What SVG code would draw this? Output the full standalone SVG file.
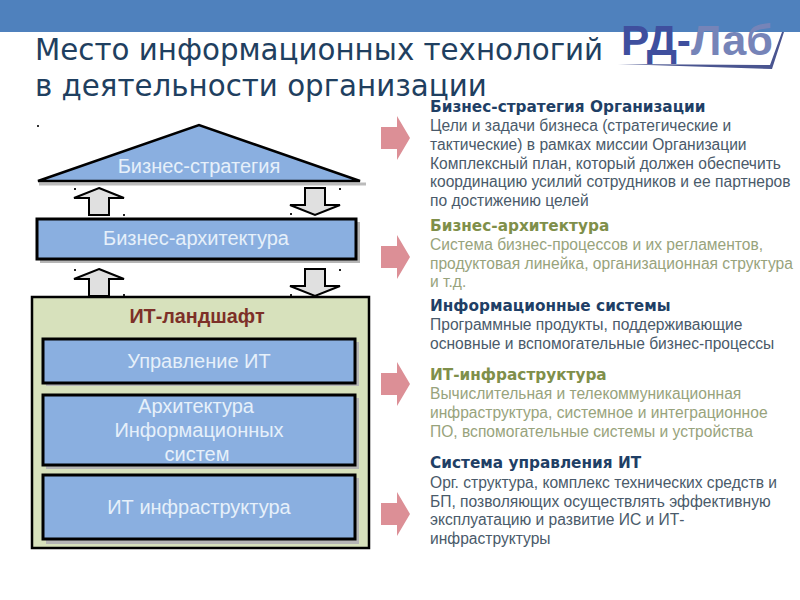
<svg xmlns="http://www.w3.org/2000/svg" width="800" height="600" viewBox="0 0 800 600">
<defs>
<path id="up" d="M0 -14L25 -4H10V13H-10V-4H-25Z"/>
<path id="down" d="M-10 -13H10V4H25L0 14L-25 4H-10Z"/>
</defs>
<style>
text{font-family:"Liberation Sans",Arial,sans-serif}
.title{font-family:"DejaVu Sans",sans-serif;font-size:29.3px;fill:#1f3f60}
.h{font-family:"DejaVu Sans",sans-serif;font-size:15.3px;font-weight:bold}
.n{fill:#1f3f66}.g{fill:#7f8f4a}
.b{font-size:15.6px;fill:#4a5a6a}
.bg{font-size:15.6px;fill:#98a37c}
.w{font-size:20px;fill:#e6f0fa;text-anchor:middle}
.box{fill:#8aafe0;stroke:#000;stroke-width:3}
.sh{fill:#b5b5b5}
.ar{fill:#e0e0e0;stroke:#000;stroke-width:2}
</style>
<rect width="800" height="32" fill="#4f81bd"/>
<g id="logo">
<text x="621" y="55" font-size="42" font-weight="bold" fill="#3f4f9e" textLength="70" lengthAdjust="spacingAndGlyphs">РД-</text>
<text x="691" y="55" font-size="42" font-weight="bold" fill="#7684b8" textLength="82" lengthAdjust="spacingAndGlyphs">Лаб</text>
<path d="M618 64L770 65L782 32L784 32L772 69Z" fill="#4a5590"/>
</g>
<g id="title">
<text class="title" x="35" y="60">Место информационных технологий</text>
<text class="title" x="35" y="96">в деятельности организации</text>
<rect x="37" y="125" width="2" height="2" fill="#333"/>
</g>
<g id="connectors">
<use href="#up" x="99" y="202" class="ar"/>
<use href="#down" x="315" y="201" class="ar"/>
<use href="#up" x="99" y="283" class="ar"/>
<use href="#down" x="315" y="282" class="ar"/>
<g id="handles" fill="#222">
<rect x="74" y="188" width="2" height="2"/><rect x="123" y="214" width="2" height="2"/>
<rect x="339" y="188" width="2" height="2"/><rect x="290" y="213" width="2" height="2"/>
<rect x="74" y="269" width="2" height="2"/><rect x="123" y="294" width="2" height="2"/>
<rect x="339" y="269" width="2" height="2"/><rect x="290" y="294" width="2" height="2"/>
</g>
<g id="pink-arrows" fill="#dc8f96">
<path d="M381 127H397V116L410 138L397 160V149H381Z"/>
<path d="M381 246H397V235L410 257L397 279V268H381Z"/>
<path d="M381 373H397V362L410 384L397 406V395H381Z"/>
<path d="M381 503H397V492L410 514L397 536V525H381Z"/>
</g>
</g>
<g id="strategy">
<path d="M39 184H366" stroke="#bbb" stroke-width="3"/>
<path d="M38 181L199 125L360 181Z" fill="#8aafe0" stroke="#000" stroke-width="2.5"/>
<text class="w" x="199" y="173">Бизнес-стратегия</text>
</g>
<g id="business-arch">
<rect class="sh" x="40" y="222" width="320" height="41"/>
<rect class="box" x="37" y="219" width="319" height="40"/>
<text class="w" x="196" y="245">Бизнес-архитектура</text>
</g>
<g id="landscape">
<rect x="32" y="297" width="337" height="251" fill="#d7e1bc" stroke="#000" stroke-width="2.5"/>
<text x="197" y="323" text-anchor="middle" font-size="19.8" font-weight="bold" fill="#7d3028">ИТ-ландшафт</text>
</g>
<g id="it-mgmt">
<rect class="sh" x="46" y="342" width="313" height="44"/>
<rect class="box" x="43" y="339" width="312" height="44"/>
<text class="w" x="199" y="368">Управление ИТ</text>
</g>
<g id="is-arch">
<rect class="sh" x="46" y="398" width="313" height="71"/>
<rect class="box" x="43" y="395" width="312" height="70"/>
<text class="w" x="196" y="413">Архитектура</text>
<text class="w" x="199" y="437">Информационных</text>
<text class="w" x="197" y="461">систем</text>
</g>
<g id="it-infra">
<rect class="sh" x="46" y="478" width="313" height="66"/>
<rect class="box" x="43" y="475" width="312" height="64"/>
<text class="w" x="199" y="514">ИТ инфраструктура</text>
</g>
<g id="text-right">
<text class="h n" x="430" y="112">Бизнес-стратегия Организации</text>
<text class="b" x="430" y="131">Цели и задачи бизнеса (стратегические и</text>
<text class="b" x="430" y="150">тактические) в рамках миссии Организации</text>
<text class="b" x="430" y="169">Комплексный план, который должен обеспечить</text>
<text class="b" x="430" y="187">координацию усилий сотрудников и ее партнеров</text>
<text class="b" x="430" y="206">по достижению целей</text>
<text class="h g" x="430" y="231">Бизнес-архитектура</text>
<text class="bg" x="430" y="250">Система бизнес-процессов и их регламентов,</text>
<text class="bg" x="430" y="269">продуктовая линейка, организационная структура</text>
<text class="bg" x="430" y="287">и т.д.</text>
<text class="h n" x="430" y="311">Информационные системы</text>
<text class="b" x="430" y="330">Программные продукты, поддерживающие</text>
<text class="b" x="430" y="349">основные и вспомогательные бизнес-процессы</text>
<text class="h g" x="430" y="380">ИТ-инфраструктура</text>
<text class="bg" x="430" y="399">Вычислительная и телекоммуникационная</text>
<text class="bg" x="430" y="418">инфраструктура, системное и интеграционное</text>
<text class="bg" x="430" y="437">ПО, вспомогательные системы и устройства</text>
<text class="h n" x="430" y="468">Система управления ИТ</text>
<text class="b" x="430" y="488">Орг. структура, комплекс технических средств и</text>
<text class="b" x="430" y="507">БП, позволяющих осуществлять эффективную</text>
<text class="b" x="430" y="525">эксплуатацию и развитие ИС и ИТ-</text>
<text class="b" x="430" y="544">инфраструктуры</text>
</g>
</svg>
